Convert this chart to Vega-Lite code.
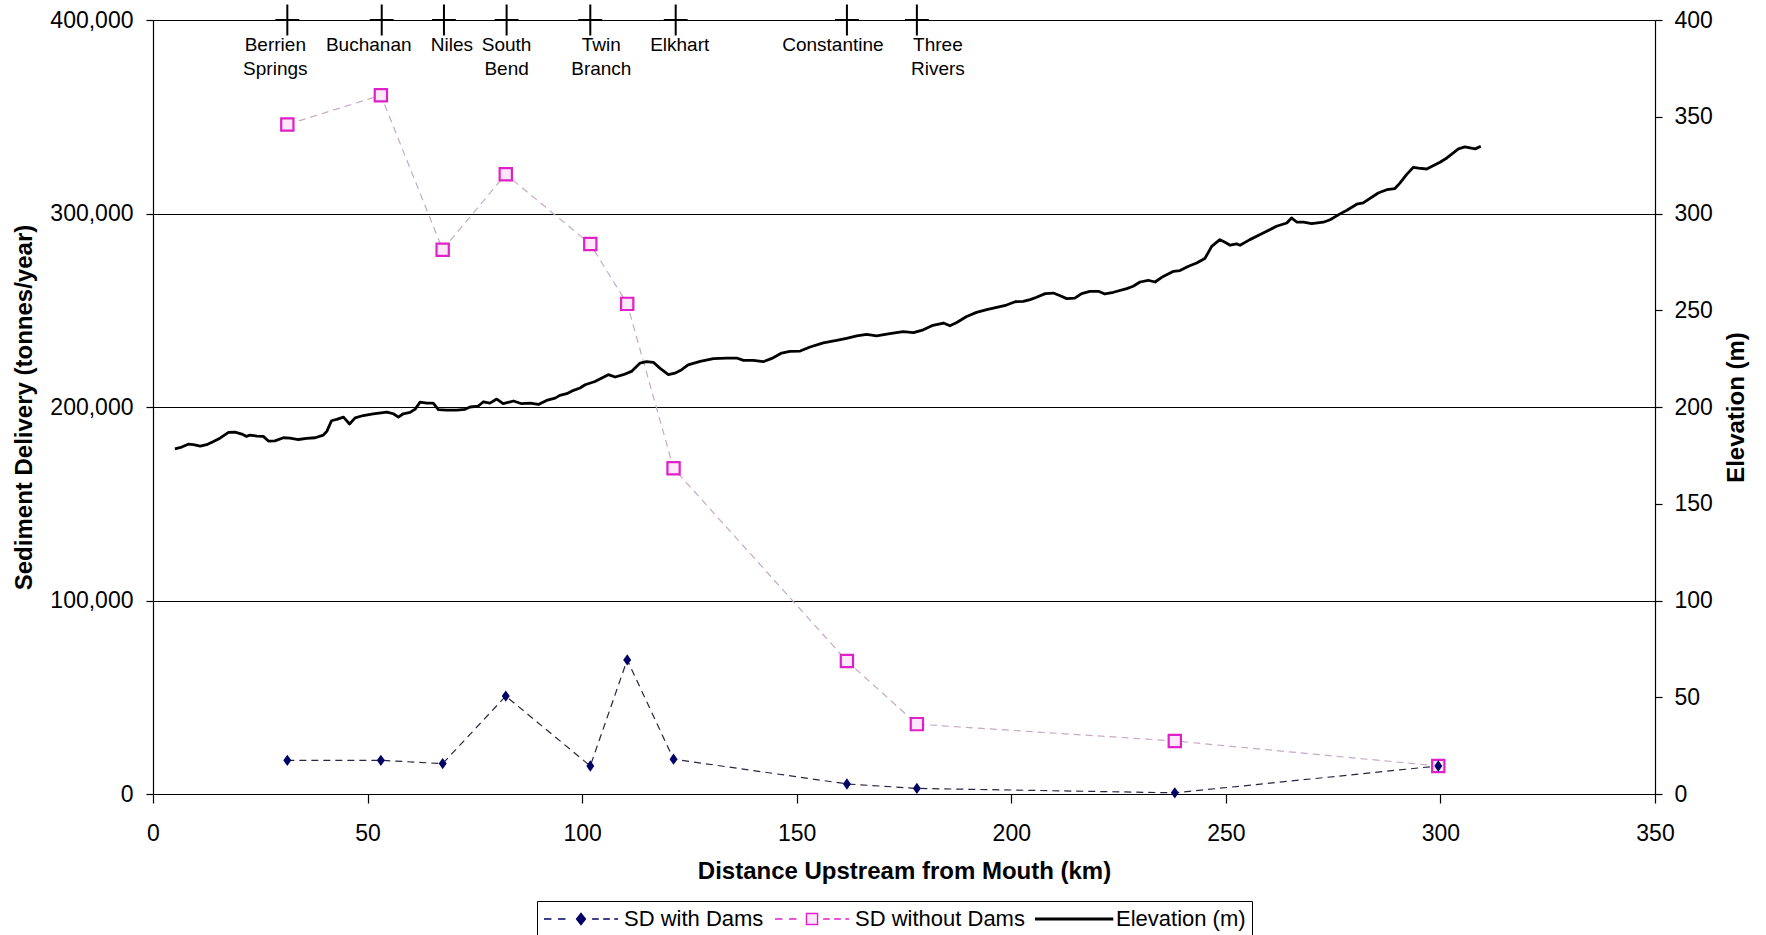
{
  "$schema": "https://vega.github.io/schema/vega-lite/v6.json",
  "autosize": {"type": "none"},
  "padding": {"left": 153, "top": 20, "right": 111, "bottom": 141},
  "width": 1502,
  "height": 774,
  "background": "white",
  "config": {
    "font": "Liberation Sans",
    "view": {"stroke": null},
    "axis": {
      "labelFont": "Liberation Sans", "labelFontSize": 23, "labelColor": "#000",
      "titleFont": "Liberation Sans", "titleFontSize": 24, "titleFontWeight": "bold", "titleColor": "#000",
      "domainColor": "#000", "domainWidth": 1.2, "tickColor": "#000", "tickWidth": 1.2, "tickSize": 7,
      "grid": false, "labelFlush": false, "labelOverlap": false
    }
  },
  "datasets": {
    "sd": [
      {"km": 31.3, "value": 17400, "series": "SD with Dams"},
      {"km": 53.1, "value": 17400, "series": "SD with Dams"},
      {"km": 67.5, "value": 15700, "series": "SD with Dams"},
      {"km": 82.2, "value": 50600, "series": "SD with Dams"},
      {"km": 101.9, "value": 14500, "series": "SD with Dams"},
      {"km": 110.5, "value": 69300, "series": "SD with Dams"},
      {"km": 121.3, "value": 18000, "series": "SD with Dams"},
      {"km": 161.7, "value": 5200, "series": "SD with Dams"},
      {"km": 178.0, "value": 2900, "series": "SD with Dams"},
      {"km": 238.1, "value": 600, "series": "SD with Dams"},
      {"km": 299.5, "value": 14500, "series": "SD with Dams"},
      {"km": 31.3, "value": 346000, "series": "SD without Dams"},
      {"km": 53.1, "value": 361100, "series": "SD without Dams"},
      {"km": 67.5, "value": 281300, "series": "SD without Dams"},
      {"km": 82.2, "value": 320300, "series": "SD without Dams"},
      {"km": 101.9, "value": 284200, "series": "SD without Dams"},
      {"km": 110.5, "value": 253300, "series": "SD without Dams"},
      {"km": 121.3, "value": 168300, "series": "SD without Dams"},
      {"km": 161.7, "value": 68700, "series": "SD without Dams"},
      {"km": 178.0, "value": 36100, "series": "SD without Dams"},
      {"km": 238.1, "value": 27400, "series": "SD without Dams"},
      {"km": 299.5, "value": 14500, "series": "SD without Dams"}
    ],
    "towns": [
      {"km": 31.3, "label": "Berrien|Springs"},
      {"km": 53.3, "label": "Buchanan"},
      {"km": 67.8, "label": "Niles"},
      {"km": 82.4, "label": "South|Bend"},
      {"km": 101.9, "label": "Twin|Branch"},
      {"km": 121.8, "label": "Elkhart"},
      {"km": 161.7, "label": "Constantine"},
      {"km": 178.0, "label": "Three|Rivers"}
    ],
    "elev": [
      {"km": 5.1, "elev": 178.4}, {"km": 6.7, "elev": 179.3}, {"km": 8.2, "elev": 180.8}, {"km": 9.4, "elev": 180.5},
      {"km": 11.0, "elev": 179.8}, {"km": 12.5, "elev": 180.5}, {"km": 14.1, "elev": 182.2}, {"km": 15.6, "elev": 183.9},
      {"km": 17.6, "elev": 186.9}, {"km": 19.1, "elev": 187.0}, {"km": 20.7, "elev": 186.0}, {"km": 21.8, "elev": 184.8},
      {"km": 22.6, "elev": 185.5}, {"km": 24.2, "elev": 185.0}, {"km": 25.7, "elev": 184.8}, {"km": 26.9, "elev": 182.4},
      {"km": 28.4, "elev": 182.5}, {"km": 30.4, "elev": 184.1}, {"km": 31.9, "elev": 183.9}, {"km": 33.9, "elev": 183.2},
      {"km": 35.8, "elev": 183.8}, {"km": 37.8, "elev": 184.1}, {"km": 39.7, "elev": 185.5}, {"km": 40.5, "elev": 187.4},
      {"km": 41.6, "elev": 192.9}, {"km": 42.8, "elev": 193.6}, {"km": 44.4, "elev": 194.8}, {"km": 45.8, "elev": 191.2},
      {"km": 47.1, "elev": 194.4}, {"km": 49.0, "elev": 195.6}, {"km": 51.3, "elev": 196.5}, {"km": 54.5, "elev": 197.4},
      {"km": 56.0, "elev": 196.5}, {"km": 57.2, "elev": 194.8}, {"km": 58.3, "elev": 196.5}, {"km": 59.9, "elev": 197.2},
      {"km": 61.1, "elev": 198.9}, {"km": 62.2, "elev": 202.5}, {"km": 63.8, "elev": 202.0}, {"km": 65.3, "elev": 202.0},
      {"km": 66.5, "elev": 198.6}, {"km": 68.4, "elev": 198.4}, {"km": 70.8, "elev": 198.4}, {"km": 72.7, "elev": 198.8},
      {"km": 73.9, "elev": 200.0}, {"km": 75.8, "elev": 200.5}, {"km": 77.0, "elev": 202.7}, {"km": 78.5, "elev": 202.0},
      {"km": 80.1, "elev": 204.1}, {"km": 81.6, "elev": 201.7}, {"km": 84.0, "elev": 203.1}, {"km": 85.9, "elev": 201.7},
      {"km": 87.9, "elev": 202.0}, {"km": 89.8, "elev": 201.3}, {"km": 91.7, "elev": 203.4}, {"km": 93.7, "elev": 204.6},
      {"km": 94.8, "elev": 206.0}, {"km": 96.4, "elev": 206.9}, {"km": 98.0, "elev": 208.6}, {"km": 99.5, "elev": 209.8},
      {"km": 100.7, "elev": 211.5}, {"km": 103.0, "elev": 213.2}, {"km": 104.6, "elev": 215.0}, {"km": 106.1, "elev": 216.7},
      {"km": 107.7, "elev": 215.5}, {"km": 109.6, "elev": 216.7}, {"km": 111.5, "elev": 218.4}, {"km": 113.5, "elev": 222.7},
      {"km": 115.0, "elev": 223.4}, {"km": 116.6, "elev": 223.1}, {"km": 118.1, "elev": 220.1}, {"km": 120.1, "elev": 216.7},
      {"km": 121.6, "elev": 217.5}, {"km": 123.2, "elev": 219.3}, {"km": 124.7, "elev": 221.8}, {"km": 127.5, "elev": 223.6},
      {"km": 130.6, "elev": 225.0}, {"km": 133.7, "elev": 225.3}, {"km": 136.0, "elev": 225.3}, {"km": 137.6, "elev": 224.1},
      {"km": 139.9, "elev": 224.1}, {"km": 142.2, "elev": 223.4}, {"km": 144.2, "elev": 225.1}, {"km": 146.5, "elev": 227.9},
      {"km": 148.4, "elev": 228.7}, {"km": 150.8, "elev": 228.9}, {"km": 153.1, "elev": 231.0}, {"km": 156.2, "elev": 233.1},
      {"km": 159.3, "elev": 234.4}, {"km": 161.6, "elev": 235.5}, {"km": 164.0, "elev": 236.8}, {"km": 166.3, "elev": 237.5},
      {"km": 168.6, "elev": 236.8}, {"km": 171.7, "elev": 237.9}, {"km": 174.8, "elev": 238.9}, {"km": 177.2, "elev": 238.4},
      {"km": 179.5, "elev": 239.9}, {"km": 181.5, "elev": 242.0}, {"km": 184.2, "elev": 243.4}, {"km": 185.7, "elev": 242.0},
      {"km": 187.3, "elev": 243.7}, {"km": 189.6, "elev": 246.8}, {"km": 191.9, "elev": 248.9}, {"km": 194.3, "elev": 250.3},
      {"km": 196.6, "elev": 251.5}, {"km": 198.9, "elev": 252.7}, {"km": 200.9, "elev": 254.4}, {"km": 202.8, "elev": 254.6},
      {"km": 204.4, "elev": 255.5}, {"km": 205.9, "elev": 256.7}, {"km": 207.9, "elev": 258.6}, {"km": 209.8, "elev": 258.9},
      {"km": 211.4, "elev": 257.5}, {"km": 212.9, "elev": 256.0}, {"km": 214.8, "elev": 256.3}, {"km": 216.4, "elev": 258.6},
      {"km": 218.3, "elev": 259.8}, {"km": 220.3, "elev": 259.8}, {"km": 221.8, "elev": 258.4}, {"km": 223.8, "elev": 259.3},
      {"km": 226.9, "elev": 261.2}, {"km": 228.4, "elev": 262.4}, {"km": 230.0, "elev": 264.6}, {"km": 231.9, "elev": 265.5},
      {"km": 233.5, "elev": 264.6}, {"km": 235.4, "elev": 267.5}, {"km": 237.8, "elev": 270.1}, {"km": 239.3, "elev": 270.5},
      {"km": 241.3, "elev": 272.7}, {"km": 243.2, "elev": 274.4}, {"km": 245.1, "elev": 276.7}, {"km": 246.7, "elev": 283.0},
      {"km": 248.6, "elev": 286.5}, {"km": 249.8, "elev": 285.1}, {"km": 251.0, "elev": 283.6}, {"km": 252.5, "elev": 284.3},
      {"km": 253.3, "elev": 283.6}, {"km": 255.6, "elev": 286.5}, {"km": 258.7, "elev": 289.9}, {"km": 261.8, "elev": 293.4},
      {"km": 264.2, "elev": 295.1}, {"km": 265.3, "elev": 297.7}, {"km": 266.5, "elev": 295.6}, {"km": 268.1, "elev": 295.5},
      {"km": 270.0, "elev": 294.8}, {"km": 272.7, "elev": 295.5}, {"km": 274.3, "elev": 296.8}, {"km": 276.6, "elev": 299.8},
      {"km": 278.2, "elev": 301.7}, {"km": 280.5, "elev": 304.8}, {"km": 282.0, "elev": 305.5}, {"km": 285.5, "elev": 310.6},
      {"km": 287.5, "elev": 312.3}, {"km": 289.4, "elev": 312.9}, {"km": 290.6, "elev": 315.8}, {"km": 292.1, "elev": 320.1},
      {"km": 293.7, "elev": 323.9}, {"km": 294.9, "elev": 323.4}, {"km": 296.8, "elev": 323.0}, {"km": 298.4, "elev": 324.8},
      {"km": 299.9, "elev": 326.5}, {"km": 301.5, "elev": 328.7}, {"km": 303.0, "elev": 331.3}, {"km": 304.2, "elev": 333.4},
      {"km": 305.7, "elev": 334.4}, {"km": 306.9, "elev": 333.9}, {"km": 308.1, "elev": 333.4}, {"km": 309.4, "elev": 334.8}
    ]
  },
  "encoding": {
    "x": {
      "field": "km", "type": "quantitative",
      "scale": {"domain": [0, 350], "nice": false},
      "axis": {
        "values": [0, 50, 100, 150, 200, 250, 300, 350], "format": ".0f",
        "tickSize": 9, "labelPadding": 19,
        "title": "Distance Upstream from Mouth (km)", "titlePadding": 14
      }
    }
  },
  "layer": [
    {
      "layer": [
        {
          "data": {"name": "sd"},
          "transform": [{"filter": "datum.series === 'SD with Dams'"}],
          "mark": {"type": "line", "color": "#262640", "strokeWidth": 1.2, "strokeDash": [7, 5]},
          "encoding": {
            "y": {
              "field": "value", "type": "quantitative",
              "scale": {"domain": [0, 400000], "nice": false},
              "axis": {"values": [0, 100000, 200000, 300000, 400000], "format": ",.0f", "grid": true, "gridColor": "#000", "gridWidth": 1, "gridOpacity": 1, "labelPadding": 13, "title": "Sediment Delivery (tonnes/year)", "titlePadding": 13}
            }
          }
        },
        {
          "data": {"name": "sd"},
          "transform": [{"filter": "datum.series === 'SD without Dams'"}],
          "mark": {"type": "line", "color": "#c9a8c5", "strokeWidth": 1.2, "strokeDash": [7, 5]},
          "encoding": {
            "y": {
              "field": "value", "type": "quantitative",
              "scale": {"domain": [0, 400000], "nice": false},
              "axis": {"values": [0, 100000, 200000, 300000, 400000], "format": ",.0f", "grid": true, "gridColor": "#000", "gridWidth": 1, "gridOpacity": 1, "labelPadding": 13, "title": "Sediment Delivery (tonnes/year)", "titlePadding": 13}
            }
          }
        },
        {
          "data": {"name": "sd"},
          "transform": [{"filter": "datum.series === 'SD without Dams'"}],
          "mark": {"type": "point", "shape": "square", "size": 150, "filled": false, "stroke": "#e020c8", "fill": "#fde8f9", "fillOpacity": 1, "strokeWidth": 2.2, "opacity": 1},
          "encoding": {
            "y": {
              "field": "value", "type": "quantitative",
              "scale": {"domain": [0, 400000], "nice": false},
              "axis": {"values": [0, 100000, 200000, 300000, 400000], "format": ",.0f", "grid": true, "gridColor": "#000", "gridWidth": 1, "gridOpacity": 1, "labelPadding": 13, "title": "Sediment Delivery (tonnes/year)", "titlePadding": 13}
            }
          }
        },
        {
          "data": {"name": "sd"},
          "transform": [{"filter": "datum.series === 'SD with Dams'"}],
          "mark": {"type": "point", "shape": "M0,-1L0.7,0L0,1L-0.7,0Z", "size": 130, "filled": true, "color": "#000066", "opacity": 1},
          "encoding": {
            "y": {
              "field": "value", "type": "quantitative",
              "scale": {"domain": [0, 400000], "nice": false},
              "axis": {"values": [0, 100000, 200000, 300000, 400000], "format": ",.0f", "grid": true, "gridColor": "#000", "gridWidth": 1, "gridOpacity": 1, "labelPadding": 13, "title": "Sediment Delivery (tonnes/year)", "titlePadding": 13}
            }
          }
        },
        {
          "data": {"name": "sd"},
          "mark": {"type": "point", "filled": true, "opacity": 0, "strokeWidth": 1.4},
          "encoding": {
            "y": {
              "field": "value", "type": "quantitative",
              "scale": {"domain": [0, 400000], "nice": false},
              "axis": {"values": [0, 100000, 200000, 300000, 400000], "format": ",.0f", "grid": true, "gridColor": "#000", "gridWidth": 1, "gridOpacity": 1, "labelPadding": 13, "title": "Sediment Delivery (tonnes/year)", "titlePadding": 13}
            },
            "shape": {
              "field": "series", "type": "nominal",
              "scale": {
                "domain": ["SD with Dams", "SD without Dams", "Elevation (m)"],
                "range": [
                  "M-1,0H-0.8M-0.62,0H-0.42M0,-0.15L0.12,0L0,0.15L-0.12,0ZM0.3,0H0.48M0.6,0H0.78M0.9,0H1",
                  "M-1,0H-0.8M-0.62,0H-0.42M-0.15,-0.15H0.15V0.15H-0.15ZM0.3,0H0.48M0.6,0H0.78M0.9,0H1",
                  "M-1.07,-0.02H1.07V0.02H-1.07Z"
                ]
              },
              "legend": {
                "orient": "none", "legendX": 384, "legendY": 881,
                "direction": "horizontal", "title": null,
                "symbolSize": 5476, "clipHeight": 24, "labelOffset": 5, "columnPadding": 10, "padding": 6,
                "symbolOpacity": 1, "symbolStrokeWidth": 1.4,
                "strokeColor": "#000", "fillColor": "#fff",
                "labelFont": "Liberation Sans", "labelFontSize": 22, "labelColor": "#000", "labelLimit": 0
              }
            },
            "fill": {
              "field": "series", "type": "nominal",
              "scale": {"domain": ["SD with Dams", "SD without Dams", "Elevation (m)"], "range": ["#000066", "#fde8f9", "#000000"]},
              "legend": {"title": null}
            },
            "stroke": {
              "field": "series", "type": "nominal",
              "scale": {"domain": ["SD with Dams", "SD without Dams", "Elevation (m)"], "range": ["#000066", "#e020c8", "#000000"]},
              "legend": {"title": null}
            }
          }
        }
      ]
    },
    {
      "layer": [
        {
          "data": {"name": "elev"},
          "mark": {"type": "line", "strokeWidth": 2.8, "strokeJoin": "round", "color": "#000"},
          "encoding": {
            "y": {
              "field": "elev", "type": "quantitative",
              "scale": {"domain": [0, 400], "nice": false},
              "axis": {"orient": "right", "values": [0, 50, 100, 150, 200, 250, 300, 350, 400], "format": ".0f", "labelPadding": 12, "title": "Elevation (m)", "titleAngle": -90, "titleBaseline": "top", "titlePadding": 12}
            }
          }
        },
        {
          "data": {"name": "towns"},
          "mark": {"type": "point", "shape": "M-0.77,0H0.77M0,-1V1", "size": 961, "filled": false, "stroke": "#000", "strokeWidth": 2, "opacity": 1},
          "encoding": {
            "y": {
              "datum": 400, "type": "quantitative",
              "scale": {"domain": [0, 400], "nice": false},
              "axis": {"orient": "right", "values": [0, 50, 100, 150, 200, 250, 300, 350, 400], "format": ".0f", "labelPadding": 12, "title": "Elevation (m)", "titleAngle": -90, "titleBaseline": "top", "titlePadding": 12}
            }
          }
        },
        {
          "data": {"name": "towns"},
          "mark": {
            "type": "text", "baseline": "top", "align": "center", "dy": 16,
            "font": "Liberation Sans", "fontSize": 19, "lineHeight": 24, "lineBreak": "|", "color": "#000",
            "dx": {"expr": "datum.label === 'Berrien|Springs' ? -12 : datum.label === 'Buchanan' ? -13 : datum.label === 'Niles' ? 8 : datum.label === 'Twin|Branch' ? 11 : datum.label === 'Elkhart' ? 4 : datum.label === 'Constantine' ? -14 : datum.label === 'Three|Rivers' ? 21 : 0"}
          },
          "encoding": {
            "y": {
              "datum": 400, "type": "quantitative",
              "scale": {"domain": [0, 400], "nice": false},
              "axis": {"orient": "right", "values": [0, 50, 100, 150, 200, 250, 300, 350, 400], "format": ".0f", "labelPadding": 12, "title": "Elevation (m)", "titleAngle": -90, "titleBaseline": "top", "titlePadding": 12}
            },
            "text": {"field": "label", "type": "nominal"}
          }
        }
      ]
    }
  ],
  "resolve": {"scale": {"y": "independent"}, "axis": {"y": "independent"}}
}
